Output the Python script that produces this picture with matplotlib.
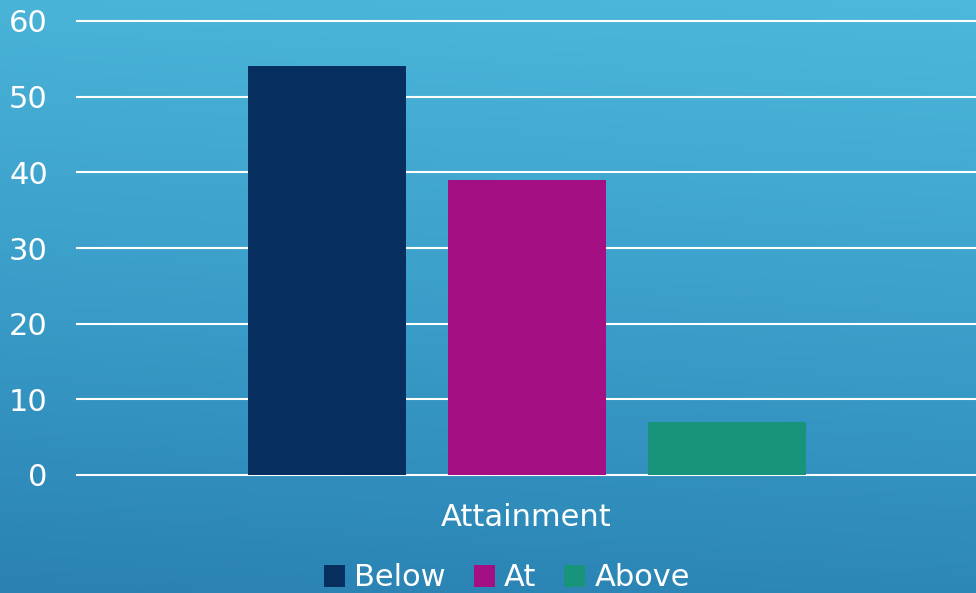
import matplotlib.pyplot as plt
import matplotlib.colors as mcolors
import numpy as np

# data
category = "Attainment"
series = ["Below", "At", "Above"]
values = [54, 39, 7]
colors = ["#062f60", "#a41083", "#179479"]
yticks = [0, 10, 20, 30, 40, 50, 60]

W, H = 976, 593
fig = plt.figure(figsize=(W / 100, H / 100), dpi=100)

# gradient background
bg = fig.add_axes([0, 0, 1, 1], zorder=-10)
cmap = mcolors.LinearSegmentedColormap.from_list("bg", ["#4db8db", "#3b9fca", "#2a82b2"])
yy, xx = np.mgrid[0:1:200j, 0:1:200j]
grad = yy * 0.9 + (1 - xx) * 0.1
bg.imshow(grad, cmap=cmap, aspect="auto", extent=[0, 1, 1, 0], vmin=0, vmax=1)
bg.set_axis_off()

ax = fig.add_axes([77 / W, 118 / H, 1 - 77 / W, (475 - 21) / H])
ax.patch.set_alpha(0)

bar_w = 158 / 899
offsets = np.array([-200, 0, 200]) / 899
for off, v, c, s in zip(offsets, values, colors, series):
    ax.bar(off, v, width=bar_w, color=c, label=s, zorder=3)

ax.set_xlim(-0.5, 0.5)
ax.set_ylim(0, 60)
ax.set_yticks(yticks)
ax.set_xticks([0])
ax.set_xticklabels([category])
for y in yticks:
    ax.axhline(y, color="white", lw=1.5, zorder=2, clip_on=False)

for sp in ax.spines.values():
    sp.set_visible(False)
ax.tick_params(axis="both", length=0, colors="white", labelsize=22)
ax.tick_params(axis="y", pad=21)
ax.tick_params(axis="x", pad=20)

leg = fig.legend(loc="center", bbox_to_anchor=(507 / W, 1 - 578 / H), ncol=3,
                 frameon=False, fontsize=22, labelcolor="white",
                 handlelength=0.7, handleheight=0.7, handletextpad=0.3,
                 columnspacing=0.9)

fig.savefig("out.png", dpi=100)
